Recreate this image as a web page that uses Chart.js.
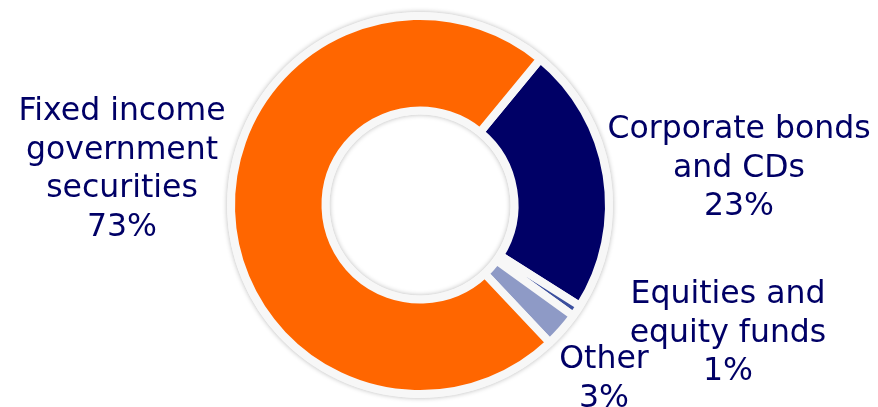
<!DOCTYPE html>
<html>
<head>
<meta charset="utf-8">
<script src="https://cdn.jsdelivr.net/npm/chart.js@4.4.0/dist/chart.umd.min.js"></script>
<style>
  html, body { margin: 0; padding: 0; background: #ffffff; }
  #wrap { width: 878px; height: 407px; position: relative; }
</style>
</head>
<body>
<div id="wrap"><canvas id="chartDona"></canvas></div>
<script>
// categorias en el orden del reloj, empezando arriba a la derecha
const categorias = ['Corporate bonds and CDs', 'Equities and equity funds', 'Other', 'Fixed income government securities'];
const porcentajes = [23, 1, 3, 73];
const colores = ['#000066', '#3b4f9e', '#8e9ac6', '#ff6600'];

// texto de cada etiqueta, linea por linea
const lineasEtiquetas = [
    ['Corporate bonds', 'and CDs', '23%'],
    ['Equities and', 'equity funds', '1%'],
    ['Other', '3%'],
    ['Fixed income', 'government', 'securities', '73%']
];
// donde se ancla la primera linea de cada etiqueta (centro x, linea base y)
const anclas = [
    { x: 739, y: 138 },
    { x: 728, y: 303 },
    { x: 604, y: 368 },
    { x: 122, y: 120 }
];

// anillo gris claro con sombra detras de los segmentos
const anilloFondo = {
    id: 'anilloFondo',
    beforeDatasetsDraw(chart) {
        const arco = chart.getDatasetMeta(0).data[0];
        if (!arco) return;
        const ctx = chart.ctx;
        const borde = 4;
        ctx.save();
        ctx.beginPath();
        ctx.arc(arco.x, arco.y, arco.outerRadius + borde, 0, Math.PI * 2);
        ctx.arc(arco.x, arco.y, arco.innerRadius - borde, 0, Math.PI * 2, true);
        ctx.closePath();
        ctx.shadowColor = 'rgba(0, 0, 0, 0.28)';
        ctx.shadowBlur = 5;
        ctx.fillStyle = '#f7f7f7';
        ctx.fill();
        ctx.restore();
    }
};

const etiquetas = {
    id: 'etiquetas',
    afterDraw(chart) {
        const ctx = chart.ctx;
        ctx.save();
        ctx.font = '31.5px "DejaVu Sans", Verdana, sans-serif';
        ctx.fillStyle = '#000066';
        ctx.textAlign = 'center';
        ctx.textBaseline = 'alphabetic';
        lineasEtiquetas.forEach((lineas, i) => {
            lineas.forEach((txt, j) => {
                ctx.fillText(txt, anclas[i].x, anclas[i].y + j * 38.5);
            });
        });
        ctx.restore();
    }
};

new Chart(document.getElementById('chartDona'), {
    type: 'doughnut',
    data: {
        labels: categorias,
        datasets: [{
            data: porcentajes,
            backgroundColor: colores,
            borderColor: '#f7f7f7',
            borderWidth: 8,
            hoverOffset: 0
        }]
    },
    options: {
        responsive: true,
        maintainAspectRatio: false,
        animation: false,
        rotation: 39.5,
        cutout: '50%',
        layout: { padding: { left: 227, right: 265, top: 12, bottom: 9 } },
        plugins: {
            legend: { display: false },
            tooltip: { enabled: false }
        }
    },
    plugins: [anilloFondo, etiquetas]
});
</script>
</body>
</html>
